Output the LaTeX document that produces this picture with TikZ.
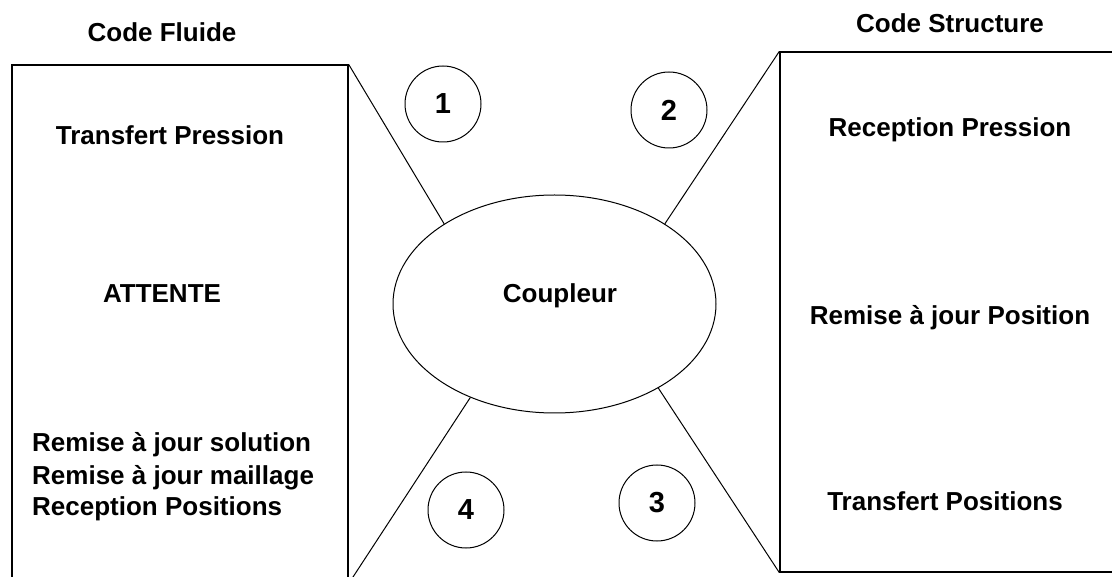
\documentclass[tikz,border=0pt]{standalone}
\usepackage{fontspec}
\setmainfont{Liberation Sans}
\usetikzlibrary{shapes.geometric}
\begin{document}
\begin{tikzpicture}[x=1pt,y=-1pt,
  lbl/.style={font=\fontsize{26}{32}\selectfont\bfseries, inner sep=0pt, anchor=base},
  lblw/.style={lbl, anchor=base west},
  codebox/.style={draw, line width=1.3pt, rectangle, inner sep=0pt},
  link/.style={line width=1pt},
  couplerbox/.style={draw, ellipse, line width=1pt, inner sep=0pt, minimum width=323pt, minimum height=218pt},
  numcirc/.style={draw, circle, line width=1pt, minimum size=76pt, inner sep=0pt, font=\fontsize{29}{34}\selectfont\bfseries}]
\clip (0,0) rectangle (1112,577);
\useasboundingbox (0,0) rectangle (1112,577);
\fill[white] (0,0) rectangle (1112,577);
% boxes
\node[codebox, minimum width=336pt, minimum height=518pt] (fluide) at (180,324) {};
\node[codebox, minimum width=350pt, minimum height=520pt] (structure) at (955,312) {};
\node[couplerbox] (coupleur) at (554.5,304) {};
% connectors
\draw[link] (fluide.north east) -- (coupleur.144);
\draw[link] (structure.north west) -- (coupleur.36);
\draw[link] (coupleur.-39) -- (structure.south west);
\draw[link] (coupleur.228) -- (fluide.south east);
% numbered circles
\node[numcirc] (c1) at (443,104) {1};
\node[numcirc] (c2) at (669,110) {2};
\node[numcirc] (c3) at (657,503) {3};
\node[numcirc] (c4) at (466,510) {4};
% labels
\node[lbl] (tfluide) at (162,42) {Code Fluide};
\node[lbl] (tstruct) at (950,33) {Code Structure};
\node[lbl] (tcoup) at (560,303) {Coupleur};
\node[lbl] (f1) at (170,145) {Transfert Pression};
\node[lbl] (f2) at (162,303) {ATTENTE};
\node[lblw] (f3) at (32,452) {Remise à jour solution};
\node[lblw] (f4) at (32,484) {Remise à jour maillage};
\node[lblw] (f5) at (32,515) {Reception Positions};
\node[lbl] (s1) at (950,137) {Reception Pression};
\node[lbl] (s2) at (950,325) {Remise à jour Position};
\node[lbl] (s3) at (945,510) {Transfert Positions};
\end{tikzpicture}
\end{document}
